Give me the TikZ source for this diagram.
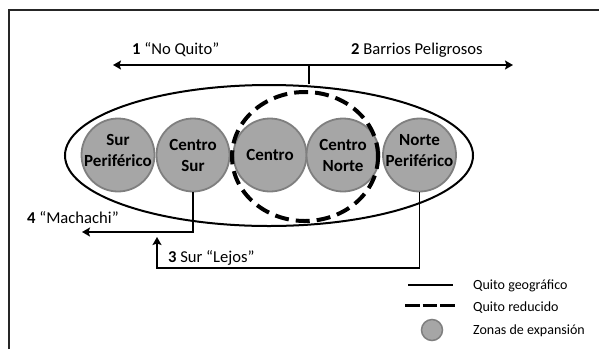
\documentclass[tikz,border=0pt]{standalone}
\usepackage{fontspec}
\setmainfont{Carlito}
\usetikzlibrary{arrows.meta,shapes.geometric}
\definecolor{zonefill}{HTML}{A6A6A6}
\definecolor{zonedraw}{HTML}{7F7F7F}
\definecolor{framec}{HTML}{262626}
\begin{document}
\begin{tikzpicture}[x=1pt,y=-1pt,
  zone/.style={circle,draw=zonedraw,fill=zonefill,line width=1.8pt,minimum size=73pt,inner sep=0pt},
  zonetext/.style={font=\fontsize{17}{21}\selectfont\bfseries,align=center,inner sep=0pt},
  lbl/.style={font=\fontsize{16.6}{20}\selectfont,inner sep=0pt,anchor=base west},
  leg/.style={font=\fontsize{14}{17}\selectfont,inner sep=0pt,anchor=base west},
  conn/.style={line width=1.5pt},
  tip/.tip={Stealth[length=8pt,width=9pt,inset=1.5pt]},
  arr/.style={conn,-tip},
  geo/.style={ellipse,draw,line width=2pt,minimum width=408pt,minimum height=141pt,inner sep=0pt},
  redq/.style={ellipse,draw,line width=4pt,dash pattern=on 14pt off 7pt,minimum width=146pt,minimum height=129pt,inner sep=0pt},
  dashq/.style={line width=3.5pt,dash pattern=on 14.5pt off 3.2pt},
]
\useasboundingbox (0,0) rectangle (599,349);
% frame
\draw[framec,line width=2.5pt] (9,349) -- (9,10) -- (599,10);

% Quito geografico
\node[geo] (geo) at (269,155.5) {};

% zones
\node[zone] (sp) at (118,155) {};
\node[zone] (cs) at (193,155) {};
\node[zone] (ce) at (270,155) {};
\node[zone] (cn) at (343,155) {};
\node[zone] (np) at (419.5,155) {};
\node[zonetext,yshift=4.5pt] (spt) at (sp.center) {Sur\\Periférico};
\node[zonetext] (cst) at (cs.center) {Centro\\Sur};
\node[zonetext] (cet) at (ce.center) {Centro};
\node[zonetext] (cnt) at (cn.center) {Centro\\Norte};
\node[zonetext,yshift=4.5pt] (npt) at (np.center) {Norte\\Periférico};

% Quito reducido
\node[redq] (red) at (305,156.5) {};

% top arrows
\coordinate (tick) at (309,65);
\coordinate (lend) at (113,65);
\coordinate (rend) at (513,65);
\draw[conn,tip-tip] (lend) -- (rend);
\draw[conn] (tick) -- (tick |- geo.north);
\node[lbl] (l1) at (132,54) {\textbf{1} “No Quito”};
\node[lbl] (l2) at (351,54) {\textbf{2} Barrios Peligrosos};

% Machachi
\coordinate (mach) at (82,232);
\draw[arr] (cs.south) |- (mach);
\node[lbl] (l4) at (27,223) {\textbf{4} “Machachi”};

% Sur lejos
\coordinate (lb) at (157,268);
\coordinate (lejos) at (157,237);
\draw[arr] (np.south) |- (lb) -- (lejos);
\node[lbl] (l3) at (168,262) {\textbf{3} Sur “Lejos”};

% legend
\coordinate (g1) at (408,285);
\coordinate (g2) at (453,285);
\draw[conn] (g1) -- (g2);
\coordinate (d1) at (405,305.5);
\coordinate (d2) at (455,305.5);
\draw[dashq] (d1) -- (d2);
\node[zone,minimum size=21pt,line width=1.5pt] (legz) at (432,330) {};
\node[leg] (t1) at (473,289.5) {Quito geográfico};
\node[leg] (t2) at (473,311) {Quito reducido};
\node[leg] (t3) at (473,334.5) {Zonas de expansión};
\end{tikzpicture}
\end{document}
